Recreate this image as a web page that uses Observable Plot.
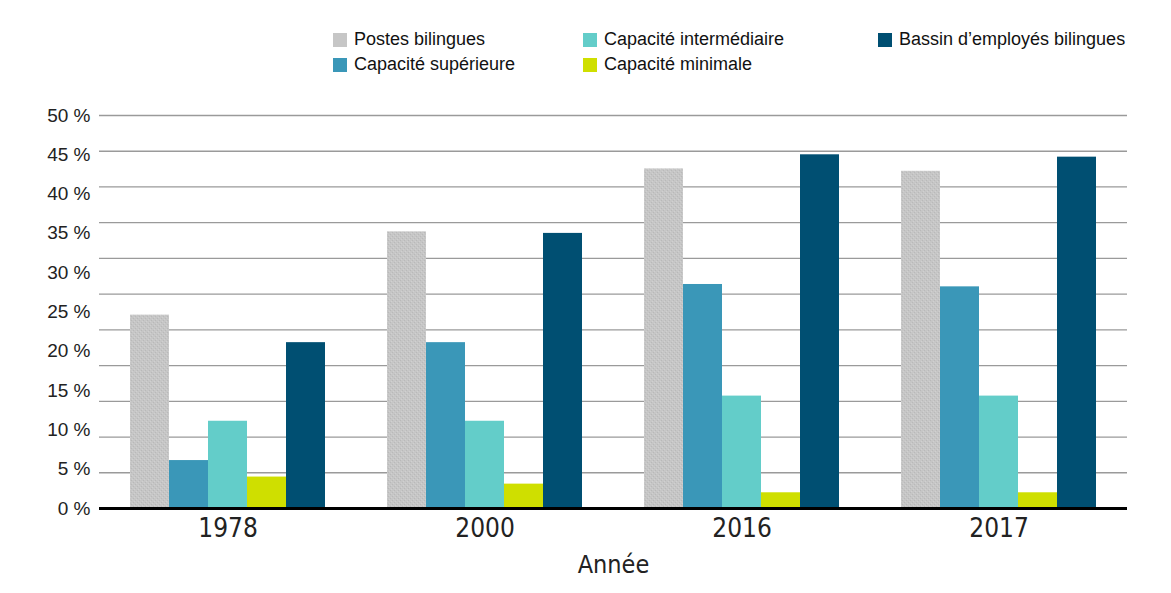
<!DOCTYPE html>
<html>
<head>
<meta charset="utf-8">
<script src="https://cdn.jsdelivr.net/npm/d3@7"></script>
<script src="https://cdn.jsdelivr.net/npm/@observablehq/plot@0.6"></script>
<style>
  html, body { margin: 0; padding: 0; background: #fff; }
  #wrap { position: relative; width: 1171px; height: 593px; font-family: "Liberation Sans", Arial, sans-serif; }
  #legend { position: relative; height: 90px; }
  .item { position: absolute; display: flex; align-items: center; font-size: 18px; color: #111; white-space: nowrap; }
  .sw { width: 14px; height: 14px; margin-right: 7px; }
  #chart svg { display: block; }
  .narrow { font-family: "Liberation Sans Narrow", "DejaVu Sans Condensed", sans-serif; font-stretch: condensed; }
</style>
</head>
<body>
<div id="wrap">
  <div id="legend"></div>
  <div id="chart"></div>
</div>
<script>
// ---- data ----
const years = ["1978", "2000", "2016", "2017"];
const series = ["Postes bilingues", "Capacité supérieure", "Capacité intermédiaire", "Capacité minimale", "Bassin d’employés bilingues"];
const postesBilingues = [24.6, 35.2, 43.2, 42.9];
const capaciteSuperieure = [6.1, 21.1, 28.5, 28.2];
const capaciteIntermediaire = [11.1, 11.1, 14.3, 14.3];
const capaciteMinimale = [4.0, 3.1, 2.0, 2.0];
const bassinBilingues = [21.1, 35.0, 45.0, 44.7];
const yTicks = [0, 5, 10, 15, 20, 25, 30, 35, 40, 45, 50];
const colors = ["url(#dotsPattern)", "#3a97b8", "#63cdc9", "#cfdf00", "#004f72"];
const legendColors = ["#c6c6c6", "#3a97b8", "#63cdc9", "#cfdf00", "#004f72"];

const valuesBySeries = [postesBilingues, capaciteSuperieure, capaciteIntermediaire, capaciteMinimale, bassinBilingues];
const data = [];
years.forEach((yr, i) => series.forEach((s, j) => data.push({year: yr, series: s, value: valuesBySeries[j][i]})));

// gridlines in the original are evenly split into 11 intervals over the axis
const gridValues = d3.range(12).map(i => i * 50 / 11);

// ---- legend ----
const legendPos = [[333, 40], [333, 65], [583, 40], [583, 65], [878, 40]];
const legend = document.getElementById("legend");
series.forEach((s, j) => {
  const d = document.createElement("div");
  d.className = "item";
  d.style.left = legendPos[j][0] + "px";
  d.style.top = (legendPos[j][1] - 11) + "px";
  const sw = document.createElement("span");
  sw.className = "sw";
  sw.style.background = legendColors[j];
  const t = document.createElement("span");
  t.textContent = s;
  d.appendChild(sw); d.appendChild(t);
  legend.appendChild(d);
});

// ---- chart ----
const narrowFont = "Liberation Sans Narrow, DejaVu Sans Condensed, sans-serif";
const plot = Plot.plot({
  width: 1171,
  height: 503,
  marginTop: 25,
  marginBottom: 85,
  marginLeft: 98,
  marginRight: 43,
  style: {fontFamily: "Liberation Sans, Arial, sans-serif", fontSize: "18px", color: "#222", background: "#fff"},
  fx: {domain: years, padding: 0, label: null},
  x: {domain: series, paddingInner: 0, paddingOuter: 0.75, axis: null},
  y: {domain: [0, 50], label: null},
  color: {domain: series, range: colors},
  marks: [
    Plot.ruleY(gridValues, {stroke: "#9a9a9a", strokeWidth: 1.3}),
    Plot.barY(data, {fx: "year", x: "series", y: "value", fill: "series"}),
    Plot.ruleY([0], {stroke: "#000", strokeWidth: 3}),
    Plot.axisY(yTicks, {tickSize: 0, tickPadding: 9, tickFormat: d => d + " %", fontSize: 19, fontFamily: "Liberation Sans, Arial, sans-serif", label: null}),
    Plot.axisFx({anchor: "bottom", tickSize: 0, tickPadding: 10, fontSize: 26, fontFamily: narrowFont, className: "narrow", label: "Année", labelAnchor: "center", labelOffset: 64})
  ]
});

// condensed font for the bottom axis texts
d3.select(plot).selectAll('[aria-label^="fx-axis"]').attr("font-family", narrowFont).style("font-stretch", "condensed");
d3.select(plot).selectAll('[aria-label="fx-axis label"]').attr("font-size", 25);

// pattern for the textured grey bars
const svg = d3.select(plot);
const defs = svg.insert("defs", ":first-child");
const pat = defs.append("pattern").attr("id", "dotsPattern").attr("patternUnits", "userSpaceOnUse").attr("width", 4).attr("height", 4);
pat.append("rect").attr("width", 4).attr("height", 4).attr("fill", "#c6c6c6");
pat.append("rect").attr("x", 0).attr("y", 0).attr("width", 1).attr("height", 1).attr("fill", "#b9b9b9");
pat.append("rect").attr("x", 2).attr("y", 2).attr("width", 1).attr("height", 1).attr("fill", "#b9b9b9");
pat.append("rect").attr("x", 1).attr("y", 3).attr("width", 1).attr("height", 1).attr("fill", "#d0d0d0");
pat.append("rect").attr("x", 3).attr("y", 1).attr("width", 1).attr("height", 1).attr("fill", "#d0d0d0");

document.getElementById("chart").appendChild(plot);
</script>
</body>
</html>
